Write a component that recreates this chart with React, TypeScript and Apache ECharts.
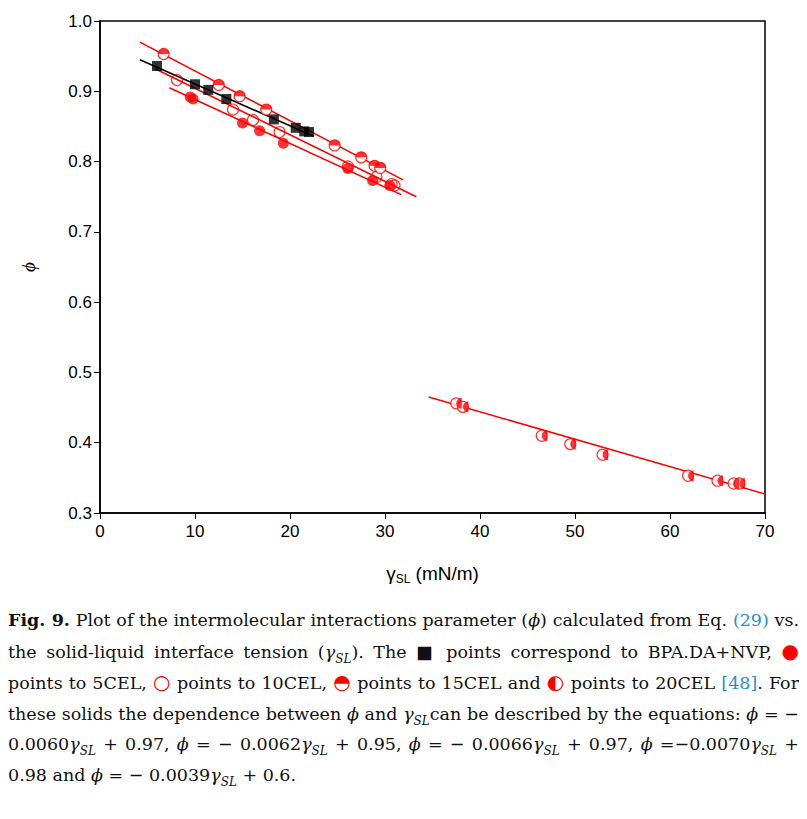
import React, { useEffect, useRef } from 'react';
import * as echarts from 'echarts';

// BPA.DA+NVP
const bpaPoints = [[6, 0.936], [10, 0.91], [11.4, 0.902], [13.3, 0.889], [18.3, 0.86], [20.6, 0.848], [21.5, 0.843], [22, 0.842]];
const bpaLine = [[4.2, 0.945], [22.5, 0.836]];
// 5CEL
const cel5Points = [[9.5, 0.892], [9.8, 0.889], [15.0, 0.855], [16.8, 0.844], [19.3, 0.826], [26.1, 0.79], [28.7, 0.773], [30.5, 0.766]];
const cel5Line = [[7.3, 0.905], [31.7, 0.753]];
// 10CEL
const cel10Points = [[8.1, 0.916], [14.0, 0.874], [16.1, 0.859], [18.9, 0.842], [26.1, 0.793], [29.1, 0.778], [30.7, 0.768], [31.0, 0.766]];
const cel10Line = [[5.8, 0.932], [33.3, 0.75]];
// 15CEL
const cel15Points = [[6.7, 0.953], [12.5, 0.909], [14.7, 0.893], [17.5, 0.874], [24.7, 0.823], [27.5, 0.806], [28.9, 0.794], [29.5, 0.791]];
const cel15Line = [[4.2, 0.97], [31.9, 0.774]];
// 20CEL
const cel20Points = [[37.5, 0.456], [38.2, 0.451], [46.5, 0.41], [49.5, 0.398], [52.9, 0.383], [61.9, 0.353], [65.0, 0.346], [66.7, 0.342], [67.3, 0.342]];
const cel20Line = [[34.6, 0.465], [70, 0.327]];

const RED = '#ff0000';
const SZ = 11;

const fitLine = (data: number[][], color: string) => ({
  type: 'line', data, symbol: 'none', lineStyle: { color, width: 1.6 }, z: 1,
});

export default function App() {
  const ref = useRef<HTMLDivElement>(null);

  useEffect(() => {
    if (!ref.current) return;
    const chart = echarts.init(ref.current, null, { renderer: 'svg' });
    const halfTop = 'path://M0,10 A10,10 0 0 1 20,10 Z';
    const halfLeft = 'path://M10,0 A10,10 0 0 0 10,20 Z';
    chart.setOption({
      animation: false,
      grid: { left: 92, top: 13, right: 34, bottom: 92, show: true, borderColor: '#000', borderWidth: 1.5 },
      xAxis: {
        type: 'value', min: 0, max: 70, interval: 10,
        axisLine: { show: true, onZero: false, lineStyle: { color: '#000', width: 1.5 } },
        axisTick: { show: true, length: 6, lineStyle: { color: '#000' } },
        splitLine: { show: false },
        axisLabel: { color: '#000', fontSize: 17, fontFamily: 'Liberation Sans', margin: 10 },
        name: '{g|γ}{s|SL}{g| (mN/m)}', nameLocation: 'middle', nameGap: 48,
        nameTextStyle: { rich: { g: { fontSize: 19, fontFamily: 'Liberation Sans', color: '#000' }, s: { fontSize: 12, fontFamily: 'Liberation Sans', color: '#000', padding: [12, 0, 0, 0] } } },
      },
      yAxis: {
        type: 'value', min: 0.3, max: 1.0, interval: 0.1,
        axisLine: { show: true, lineStyle: { color: '#000', width: 1.5 } },
        axisTick: { show: true, length: 6, lineStyle: { color: '#000' } },
        splitLine: { show: false },
        axisLabel: { color: '#000', fontSize: 17, fontFamily: 'Liberation Sans', formatter: (v: number) => v.toFixed(1) },
        name: 'ϕ', nameLocation: 'middle', nameGap: 62, nameRotate: 90,
        nameTextStyle: { fontSize: 19, fontStyle: 'italic', fontFamily: 'Liberation Serif', color: '#000' },
      },
      series: [
        fitLine(bpaLine, '#000'),
        fitLine(cel5Line, RED),
        fitLine(cel10Line, RED),
        fitLine(cel15Line, RED),
        fitLine(cel20Line, RED),
        { type: 'scatter', data: cel5Points, symbol: 'circle', symbolSize: SZ, itemStyle: { color: RED }, z: 3 },
        { type: 'scatter', data: cel10Points, symbol: 'circle', symbolSize: SZ, itemStyle: { color: 'rgba(255,255,255,0)', borderColor: RED, borderWidth: 1.2 }, z: 3 },
        { type: 'scatter', data: cel15Points, symbol: 'circle', symbolSize: SZ, itemStyle: { color: '#fff', borderColor: RED, borderWidth: 1.2 }, z: 3 },
        { type: 'scatter', data: cel15Points, symbol: halfTop, symbolSize: [SZ, SZ / 2], symbolOffset: [0, '-50%'], itemStyle: { color: RED }, z: 4 },
        { type: 'scatter', data: cel20Points, symbol: 'circle', symbolSize: SZ, itemStyle: { color: '#fff', borderColor: RED, borderWidth: 1.2 }, z: 3 },
        { type: 'scatter', data: cel20Points, symbol: halfLeft, symbolSize: [SZ / 2, SZ], symbolOffset: ['50%', 0], itemStyle: { color: RED }, z: 4 },
        { type: 'scatter', data: bpaPoints, symbol: 'rect', symbolSize: 10, itemStyle: { color: '#000' }, z: 5 },
      ],
    });
    return () => chart.dispose();
  }, []);

  const blue = { color: '#2a8fc9' };
  const sym = { color: RED, fontFamily: '"DejaVu Sans"', fontSize: 20 };
  const i = (s: string) => <i>{s}</i>;
  const g = <span><i>γ</i><sub style={{ fontSize: 12, lineHeight: 0 }}><i>SL</i></sub></span>;
  return (
    <div style={{ width: 791 }}>
      <div ref={ref} style={{ width: 791, height: 597 }} />
      <div style={{ fontFamily: '"DejaVu Serif", "Liberation Serif", serif', fontSize: 17.5, lineHeight: '30.5px', textAlign: 'justify', color: '#111', marginTop: 0 }}>
        <b>Fig. 9.</b> Plot of the intermolecular interactions parameter ({i('ϕ')}) calculated from Eq. <span style={blue}>(29)</span> vs. the solid-liquid interface tension ({g}). The <span style={{ fontFamily: '"DejaVu Sans"' }}>■</span> points correspond to BPA.DA+NVP, <span style={sym}>●</span> points to 5CEL, <span style={sym}>○</span> points to 10CEL, <span style={sym}>◓</span> points to 15CEL and <span style={sym}>◐</span> points to 20CEL <span style={blue}>[48]</span>. For these solids the dependence between {i('ϕ')} and {g}can be described by the equations: {i('ϕ')} = − 0.0060{g} + 0.97, {i('ϕ')} = − 0.0062{g} + 0.95, {i('ϕ')} = − 0.0066{g} + 0.97, {i('ϕ')} =−0.0070{g} + 0.98 and {i('ϕ')} = − 0.0039{g} + 0.6.
      </div>
    </div>
  );
}
